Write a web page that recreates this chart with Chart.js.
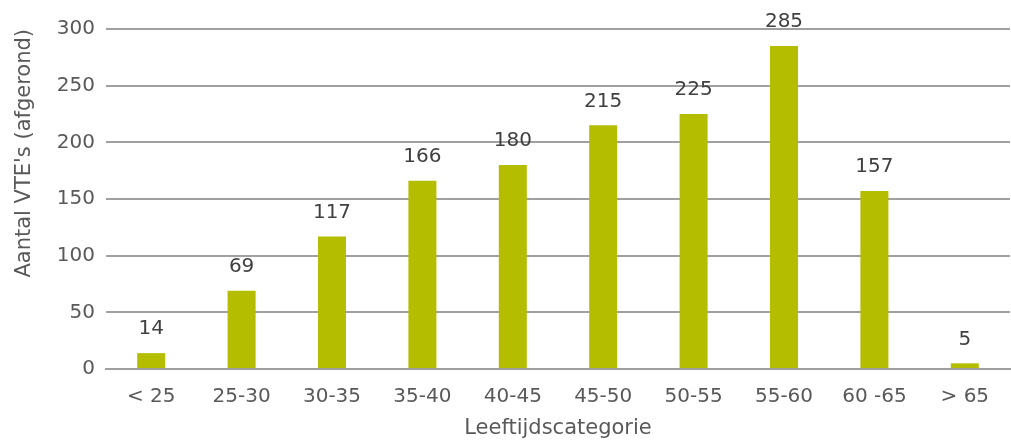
<!DOCTYPE html>
<html><head><meta charset="utf-8">
<script src="https://cdn.jsdelivr.net/npm/chart.js@4.4.0/dist/chart.umd.min.js"></script>
<style>html,body{margin:0;padding:0;background:#fff}#wrap{width:1011px;height:441px}</style>
</head><body><div id="wrap"><canvas id="c"></canvas></div>
<script>
const categories = ['< 25','25-30','30-35','35-40','40-45','45-50','50-55','55-60','60 -65','> 65'];
const values = [14,69,117,166,180,215,225,285,157,5];
const yTicks = [0,50,100,150,200,250,300];
const yTitle = "Aantal VTE's (afgerond)";
const xTitle = 'Leeftijdscategorie';

const FONT = "'DejaVu Sans', Verdana, sans-serif";
const labelPlugin = {
  id: 'valueLabels',
  afterDatasetsDraw(chart) {
    const ctx = chart.ctx;
    const meta = chart.getDatasetMeta(0);
    ctx.save();
    ctx.font = '20px ' + FONT;
    ctx.fillStyle = '#404040';
    ctx.textAlign = 'center';
    ctx.textBaseline = 'middle';
    meta.data.forEach((bar, i) => {
      ctx.fillText(String(values[i]), bar.x, bar.y - 24);
    });
    ctx.restore();
  }
};

new Chart(document.getElementById('c'), {
  type: 'bar',
  data: { labels: categories, datasets: [{ data: values, backgroundColor: '#b5bd00', barPercentage: 0.31, categoryPercentage: 1 }] },
  plugins: [labelPlugin],
  options: {
    responsive: true, maintainAspectRatio: false, animation: false,
    layout: { padding: { top: 29, right: 1, left: 0, bottom: 0 } },
    plugins: { legend: { display: false }, tooltip: { enabled: false } },
    scales: {
      x: {
        grid: { display: false, drawTicks: false },
        border: { color: '#a0a0a0', width: 2 },
        ticks: { color: '#595959', font: { family: FONT, size: 20 }, padding: 16, maxRotation: 0 },
        title: { display: true, text: xTitle, color: '#595959', font: { family: FONT, size: 21 }, padding: { top: 7, bottom: 0 } },
        afterFit(s) { s.height = 72; }
      },
      y: {
        min: 0, max: 300,
        afterBuildTicks(s) { s.ticks = yTicks.map(v => ({ value: v })); },
        grid: { color: '#a0a0a0', lineWidth: 2, drawTicks: false },
        border: { display: false },
        ticks: { color: '#595959', font: { family: FONT, size: 20 }, padding: 11 },
        title: { display: true, text: yTitle, align: 'end', color: '#595959', font: { family: FONT, size: 21 }, padding: { top: 12, bottom: 8 } },
        afterFit(s) { s.width = 106; }
      }
    }
  }
});
</script></body></html>
